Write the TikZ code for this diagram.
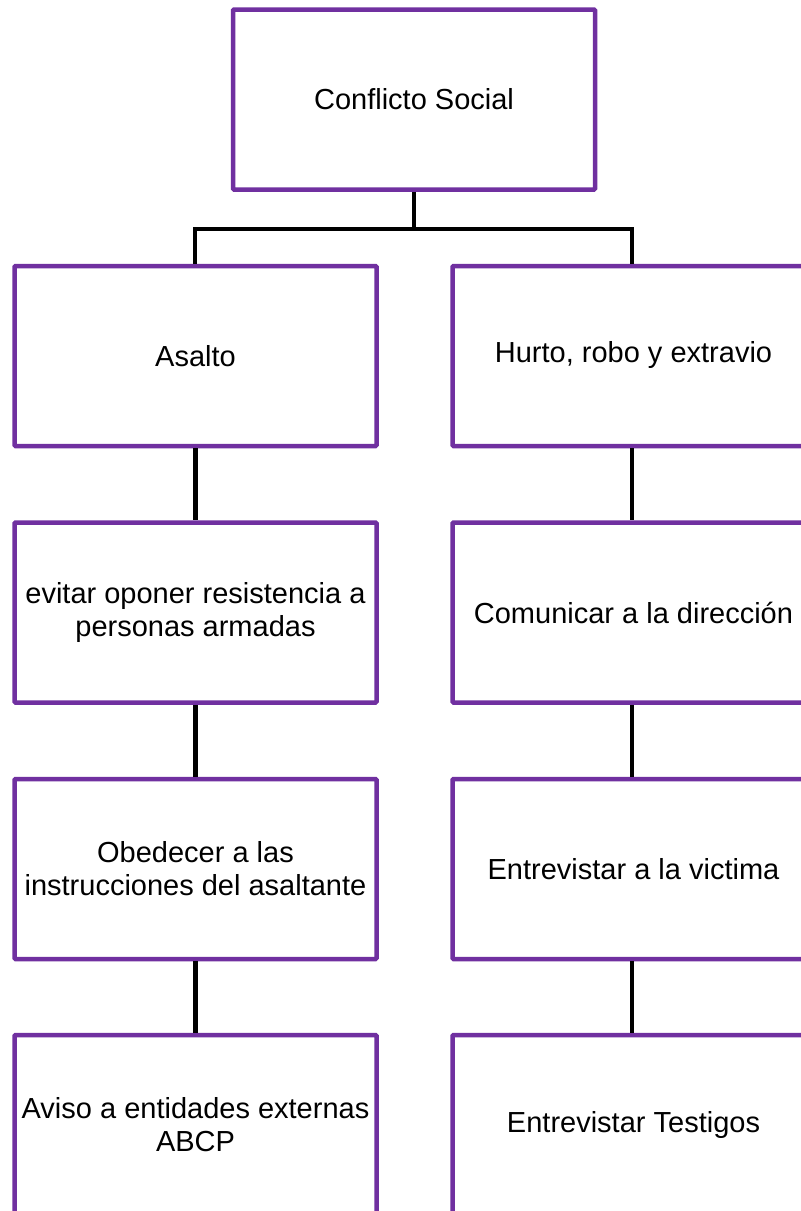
\documentclass[tikz,border=0pt]{standalone}
\usepackage{fontspec}
\setmainfont{Liberation Sans}
\definecolor{boxpurple}{HTML}{7030A0}
\begin{document}
\begin{tikzpicture}[x=1pt,y=-1pt,
  box/.style={draw=boxpurple, line width=4.5pt, rounded corners=1pt, fill=white,
    minimum width=362pt, minimum height=180pt, inner sep=0pt, align=center,
    font=\fontsize{29}{33}\selectfont},
  link/.style={draw=black, line width=4.5pt}]
\useasboundingbox (0,0) rectangle (801,1211);
\node[box] (top) at (414,99.5) {Conflicto Social};
\node[box] (l1) at (195.5,356) {Asalto};
\node[box] (r1) at (633.5,356) {\strut Hurto, robo y extravio};
\node[box] (l2) at (195.5,612.5) {evitar oponer resistencia a\\personas armadas};
\node[box] (r2) at (633.5,612.5) {Comunicar a la dirección};
\node[box] (l3) at (195.5,869) {Obedecer a las\\instrucciones del asaltante};
\node[box] (r3) at (633.5,869) {Entrevistar a la victima};
\node[box] (l4) at (195.5,1125) {Aviso a entidades externas\\ABCP};
\node[box] (r4) at (633.5,1125) {Entrevistar Testigos};
\coordinate (hub) at (414,229);
\draw[link] (top.south) -- (hub);
\draw[link] (l1.north -| 195,0) |- (hub) -| (632,0 |- r1.north);
\draw[link] (l1.south) -- (l2.north);
\draw[link] (l2.south) -- (l3.north);
\draw[link] (l3.south) -- (l4.north);
\draw[link] (r1.south -| 632,0) -- (r2.north -| 632,0);
\draw[link] (r2.south -| 632,0) -- (r3.north -| 632,0);
\draw[link] (r3.south -| 632,0) -- (r4.north -| 632,0);
\end{tikzpicture}
\end{document}
